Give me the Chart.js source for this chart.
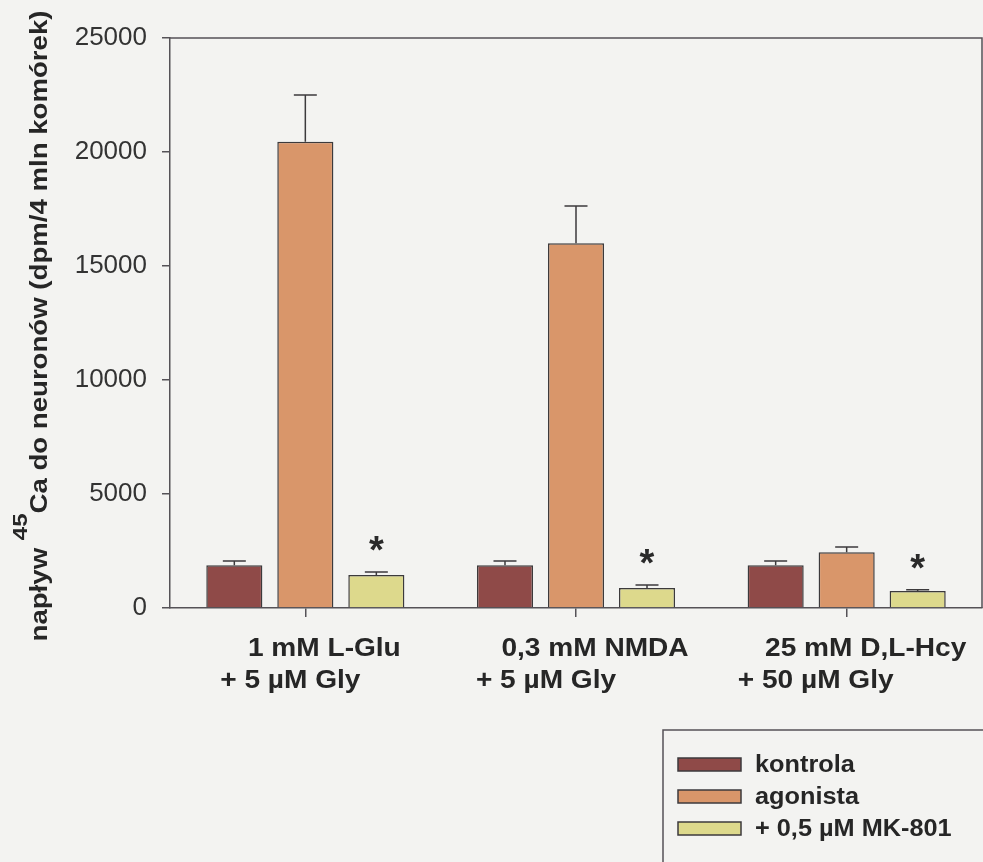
<!DOCTYPE html>
<html>
<head>
<meta charset="utf-8">
<script src="https://cdn.jsdelivr.net/npm/chart.js@4.4.0/dist/chart.umd.min.js"></script>
<style>
  html, body { margin: 0; padding: 0; background: #f3f3f1; }
  #wrap { position: relative; width: 983px; height: 862px; }
</style>
</head>
<body>
<div id="wrap"><canvas id="caChart" width="983" height="862"></canvas></div>
<script>
// data
const categories = [
  ['1 mM L-Glu', '+ 5 \u00B5M Gly'],
  ['0,3 mM NMDA', '+ 5 \u00B5M Gly'],
  ['25 mM D,L-Hcy', '+ 50 \u00B5M Gly']
];
const kontrola    = [1880, 1880, 1880];
const kontrolaErr = [180, 180, 180];
const agonista    = [20450, 16000, 2450];
const agonistaErr = [2050, 1630, 220];
const mk801       = [1450, 880, 750];
const mk801Err    = [130, 130, 45];
const mk801Star   = [true, true, true];
const yTicks      = [0, 5000, 10000, 15000, 20000, 25000];

const seriesLabels = ['kontrola', 'agonista', '+ 0,5 \u00B5M MK-801'];
const seriesColors = ['#8f4a48', '#d9966a', '#ddd98c'];
const errors = [kontrolaErr, agonistaErr, mk801Err];
const stars  = [null, null, mk801Star];

const edge = '#3c3a3c';
const axisCol = '#555257';
const FONT = 'Arial, "Liberation Sans", Helvetica, sans-serif';

// text with horizontal stretch (the original typeface is wider)
function stretchText(ctx, text, x, y, font, sx, align) {
  ctx.save();
  ctx.font = font;
  const w = ctx.measureText(text).width * sx;
  let x0 = x;
  if (align === 'center') x0 = x - w / 2;
  else if (align === 'right') x0 = x - w;
  ctx.translate(x0, y);
  ctx.scale(sx, 1);
  ctx.textAlign = 'left';
  ctx.textBaseline = 'alphabetic';
  ctx.fillText(text, 0, 0);
  ctx.restore();
  return w;
}

const paperPlugin = {
  id: 'paper',
  beforeDraw(chart) {
    const ctx = chart.ctx;
    ctx.save();
    ctx.fillStyle = '#f3f3f1';
    ctx.fillRect(0, 0, chart.width, chart.height);
    ctx.restore();
  },
  afterDatasetsDraw(chart) {
    const ctx = chart.ctx;
    const y = chart.scales.y;
    ctx.save();
    // error bars (upper only)
    chart.data.datasets.forEach((ds, di) => {
      const meta = chart.getDatasetMeta(di);
      meta.data.forEach((bar, i) => {
        const top = y.getPixelForValue(ds.data[i] + errors[di][i]);
        ctx.strokeStyle = edge;
        ctx.lineWidth = 1.5;
        ctx.beginPath();
        ctx.moveTo(bar.x, bar.y);
        ctx.lineTo(bar.x, top);
        ctx.moveTo(bar.x - 11.5, top);
        ctx.lineTo(bar.x + 11.5, top);
        ctx.stroke();
        if (stars[di] && stars[di][i]) {
          ctx.fillStyle = '#2a2a2a';
          ctx.font = 'bold 38px ' + FONT;
          ctx.textAlign = 'center';
          ctx.textBaseline = 'alphabetic';
          ctx.fillText('*', bar.x, top - 9);
        }
      });
    });
    ctx.restore();
  },
  afterDraw(chart) {
    const ctx = chart.ctx;
    const a = chart.chartArea;
    const xs = chart.scales.x;
    ctx.save();
    // frame top + right
    ctx.strokeStyle = axisCol;
    ctx.lineWidth = 1.5;
    ctx.beginPath();
    ctx.moveTo(a.left, a.top);
    ctx.lineTo(a.right, a.top);
    ctx.lineTo(a.right, a.bottom);
    ctx.stroke();

    // category labels
    const off2 = [-15, -30, -31];
    ctx.fillStyle = '#262626';
    categories.forEach((lines, i) => {
      const cx = xs.getPixelForValue(i);
      stretchText(ctx, lines[0], cx + 19, 656, 'bold 26px ' + FONT, 1.08, 'center');
      stretchText(ctx, lines[1], cx + off2[i], 688, 'bold 26px ' + FONT, 1.08, 'center');
    });

    // y title with superscript 45
    ctx.save();
    ctx.translate(47, 326);
    ctx.rotate(-Math.PI / 2);
    const f1 = 'bold 23px ' + FONT, f2 = 'bold 20px ' + FONT, sx = 1.2;
    const p1 = 'nap\u0142yw ', p2 = '45', p3 = 'Ca do neuron\u00F3w (dpm/4 mln kom\u00F3rek)';
    ctx.font = f1;
    const w1 = ctx.measureText(p1).width * sx, w3 = ctx.measureText(p3).width * sx;
    ctx.font = f2;
    const w2 = ctx.measureText(p2).width * sx;
    let tx = -(w1 + w2 + w3) / 2;
    tx += stretchText(ctx, p1, tx, 0, f1, sx, 'left');
    tx += stretchText(ctx, p2, tx, -20, f2, sx, 'left');
    stretchText(ctx, p3, tx, 0, f1, sx, 'left');
    ctx.restore();

    // legend box
    ctx.strokeStyle = axisCol;
    ctx.lineWidth = 1.5;
    ctx.strokeRect(663, 730, 400, 200);
    chart.data.datasets.forEach((ds, i) => {
      const top = 758 + i * 32;
      ctx.fillStyle = ds.backgroundColor;
      ctx.fillRect(678, top, 63, 13);
      ctx.strokeStyle = edge;
      ctx.lineWidth = 1.5;
      ctx.strokeRect(678, top, 63, 13);
      ctx.fillStyle = '#262626';
      stretchText(ctx, ds.label, 755, top + 13.5, 'bold 23px ' + FONT, 1.1, 'left');
    });
    ctx.restore();
  }
};

new Chart(document.getElementById('caChart'), {
  type: 'bar',
  data: {
    labels: categories.map(c => c.join(' ')),
    datasets: seriesLabels.map((lab, i) => ({
      label: lab,
      data: [kontrola, agonista, mk801][i],
      backgroundColor: seriesColors[i],
      borderColor: edge,
      borderWidth: 1.5,
      categoryPercentage: 0.787,
      barPercentage: 0.79
    }))
  },
  options: {
    responsive: false,
    animation: false,
    layout: { padding: { top: 38, right: 1, left: 0, bottom: 0 } },
    plugins: { legend: { display: false }, tooltip: { enabled: false } },
    scales: {
      x: {
        grid: { drawOnChartArea: false, offset: false, tickLength: 9, color: axisCol, lineWidth: 1.5 },
        border: { color: axisCol, width: 1.5 },
        ticks: { display: false },
        afterFit: s => { s.height = 254; }
      },
      y: {
        min: 0, max: 25000,
        afterBuildTicks: s => { s.ticks = yTicks.map(v => ({ value: v })); },
        grid: { drawOnChartArea: false, tickLength: 8, color: axisCol, lineWidth: 1.5 },
        border: { color: axisCol, width: 1.5 },
        ticks: { color: '#333', padding: 15, font: { family: FONT, size: 26 }, callback: v => String(v) },
        afterFit: s => { s.width = 170; }
      }
    }
  },
  plugins: [paperPlugin]
});
</script>
</body>
</html>
